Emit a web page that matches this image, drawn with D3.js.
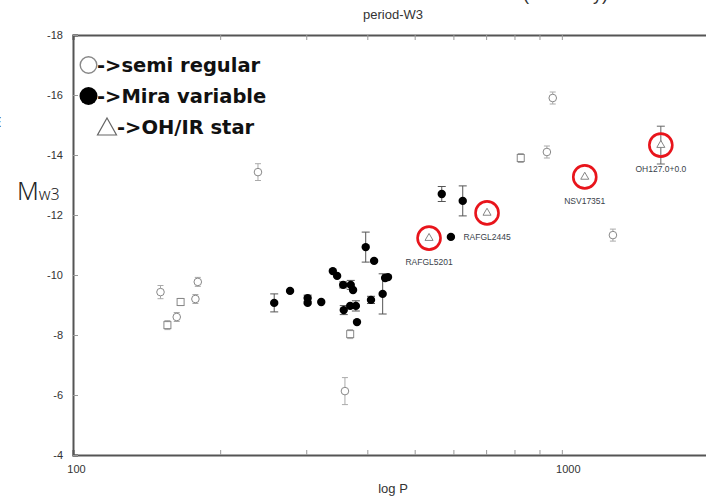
<!DOCTYPE html>
<html><head><meta charset="utf-8">
<script src="https://cdn.jsdelivr.net/npm/d3@7"></script>
<style>html,body{margin:0;padding:0;background:#fff;overflow:hidden}</style>
</head><body>
<svg id="c" width="706" height="497"></svg>
<script>
// ---- data ----
const semiPeriod = [151, 180, 166, 178, 163, 156, 239, 360, 369, 824, 932, 958, 1272];
const semiMag    = [-9.43, -9.77, -9.1, -9.2, -8.6, -8.33, -13.43, -6.13, -8.03, -13.9, -14.1, -15.9, -11.33];
const semiErr    = [0.22, 0.15, 0.12, 0.15, 0.15, 0.15, 0.28, 0.45, 0.15, 0.15, 0.2, 0.2, 0.2];
const semiShape  = ["c", "c", "s", "c", "c", "s", "c", "c", "s", "s", "c", "c", "c"];

const miraPeriod = [258, 278, 302, 302, 322, 340, 347, 357, 370, 374, 358, 369, 379, 381, 397, 413, 407, 430, 435, 441, 568, 627, 593];
const miraMag    = [-9.07, -9.47, -9.23, -9.07, -9.1, -10.13, -9.97, -9.67, -9.67, -9.5, -8.83, -8.97, -8.97, -8.43, -10.93, -10.47, -9.17, -9.37, -9.9, -9.93, -12.7, -12.47, -11.27];
const miraErr    = [0.3, 0, 0.1, 0, 0, 0, 0, 0.1, 0.15, 0, 0.15, 0, 0.17, 0, 0.5, 0, 0.12, 0.67, 0, 0, 0.25, 0.5, 0];

const ohNames  = ["RAFGL5201", "RAFGL2445", "NSV17351", "OH127.0+0.0"];
const ohPeriod = [535, 703, 1114, 1594];
const ohMag    = [-11.23, -12.07, -13.27, -14.33];
const ohErr    = [0, 0, 0, 0.63];

const xTickValues = [100, 200, 300, 400, 500, 600, 700, 800, 900, 1000, 2000];
const xTickLabels = {100: "100", 1000: "1000"};
const yTickValues = [-18, -16, -14, -12, -10, -8, -6, -4];
const legendLabels = ["->semi regular", "->Mira variable", "->OH/IR star"];

// ---- chart ----
const svg = d3.select("#c");
const x = d3.scaleLog().domain([100, 2000]).range([73, 709]);
const y = d3.scaleLinear().domain([-18, -4]).range([35, 455]);

// cut-off top text & title
svg.append("text").attr("x", 523).attr("y", 0).attr("font-family", "Liberation Sans, Arial")
  .attr("font-size", 18).attr("fill", "#333").text("(Mira only)");
svg.append("text").attr("x", 393).attr("y", 19).attr("text-anchor", "middle")
  .attr("font-family", "Liberation Sans Narrow, Liberation Sans, Arial").attr("font-size", 13).attr("fill", "#333").text("period-W3");
svg.append("text").attr("x", -7).attr("y", 127).attr("font-family", "Noto Sans").attr("font-size", 15).attr("fill", "#222").text("E");

// axes
const axisColor = "#555";
const gx = svg.append("g").attr("transform", `translate(0,${y(-4)})`)
  .call(d3.axisBottom(x).tickValues(xTickValues).tickSize(-5).tickPadding(10)
  .tickFormat(d => xTickLabels[d] || ""));
const gxt = svg.append("g").attr("transform", `translate(0,${y(-18)})`)
  .call(d3.axisTop(x).tickValues(xTickValues).tickSize(-5).tickFormat(""));
const gy = svg.append("g").attr("transform", `translate(${x(100)},0)`)
  .call(d3.axisLeft(y).tickValues(yTickValues).tickSize(-5).tickPadding(10).tickFormat(d => String(d)));
[gx, gxt, gy].forEach(g => {
  g.select(".domain").attr("stroke", axisColor).attr("stroke-width", 2);
  g.selectAll(".tick line").attr("stroke", "#999").attr("stroke-width", 1);
  g.selectAll(".tick text").attr("font-family", "Liberation Sans, Arial").attr("font-size", 11).attr("fill", "#333");
});
gx.selectAll(".tick text").attr("dx", d => d === 100 ? 3 : 6);

svg.append("text").attr("x", 393).attr("y", 493).attr("text-anchor", "middle")
  .attr("font-family", "Liberation Sans, Arial").attr("font-size", 13).attr("fill", "#333").text("log P");
const ml = svg.append("text").attr("x", 17).attr("y", 200).attr("font-family", "Noto Sans").attr("fill", "#222");
ml.append("tspan").attr("font-size", 25).attr("font-weight", 300).text("M");
ml.append("tspan").attr("font-size", 16).attr("font-weight", 300).text("w3");

// error bar helper
function errBar(g, px, m, e, color, cap) {
  if (!e) return;
  g.append("line").attr("x1", px).attr("x2", px).attr("y1", y(m - e)).attr("y2", y(m + e)).attr("stroke", color).attr("stroke-width", 1);
  [m - e, m + e].forEach(v => g.append("line").attr("x1", px - cap).attr("x2", px + cap).attr("y1", y(v)).attr("y2", y(v)).attr("stroke", color).attr("stroke-width", 1));
}

// semi regular
const gs = svg.append("g");
semiPeriod.forEach((p, i) => {
  const px = x(p), py = y(semiMag[i]);
  errBar(gs, px, semiMag[i], semiErr[i], "#aaa", 3);
  if (semiShape[i] === "s") {
    gs.append("rect").attr("x", px - 3.5).attr("y", py - 3.5).attr("width", 7).attr("height", 7)
      .attr("fill", "#fff").attr("stroke", "#888").attr("stroke-width", 1);
  } else {
    gs.append("circle").attr("cx", px).attr("cy", py).attr("r", 3.8).attr("fill", "#fff").attr("stroke", "#888").attr("stroke-width", 1);
  }
});

// mira
const gm = svg.append("g");
miraPeriod.forEach((p, i) => {
  errBar(gm, x(p), miraMag[i], miraErr[i], "#555", 4);
});
miraPeriod.forEach((p, i) => {
  gm.append("circle").attr("cx", x(p)).attr("cy", y(miraMag[i])).attr("r", 4.2).attr("fill", "#000");
});

// OH/IR
const go = svg.append("g");
ohPeriod.forEach((p, i) => {
  const px = x(p), py = y(ohMag[i]);
  errBar(go, px, ohMag[i], ohErr[i], "#666", 4);
  go.append("path").attr("d", d3.symbol(d3.symbolTriangle, 28)()).attr("transform", `translate(${px},${py})`)
    .attr("fill", "#fff").attr("stroke", "#777").attr("stroke-width", 0.9);
  go.append("circle").attr("cx", px).attr("cy", py).attr("r", 11.5).attr("fill", "none").attr("stroke", "#e8141b").attr("stroke-width", 2.6);
  go.append("text").attr("x", px).attr("y", py + 27).attr("text-anchor", "middle")
    .attr("font-family", "Liberation Sans, Arial").attr("font-size", 8.5).attr("fill", "#3a3f4a").text(ohNames[i]);
});

// legend
const lg = svg.append("g");
const lf = "DejaVu Sans, Liberation Sans";
lg.append("circle").attr("cx", 88.5).attr("cy", 65).attr("r", 8.3).attr("fill", "#fff").attr("stroke", "#888").attr("stroke-width", 1.4);
lg.append("circle").attr("cx", 88.5).attr("cy", 96).attr("r", 9).attr("fill", "#000");
lg.append("path").attr("d", "M107,118 L116.5,135 L97.5,135 Z").attr("fill", "#fff").attr("stroke", "#666").attr("stroke-width", 1.2);
[[97, 72], [97, 103], [117, 134]].forEach((pos, i) => {
  lg.append("text").attr("x", pos[0]).attr("y", pos[1]).attr("font-family", lf).attr("font-weight", "bold")
    .attr("font-size", 19.5).attr("fill", "#111").text(legendLabels[i]);
});
</script>
</body></html>
